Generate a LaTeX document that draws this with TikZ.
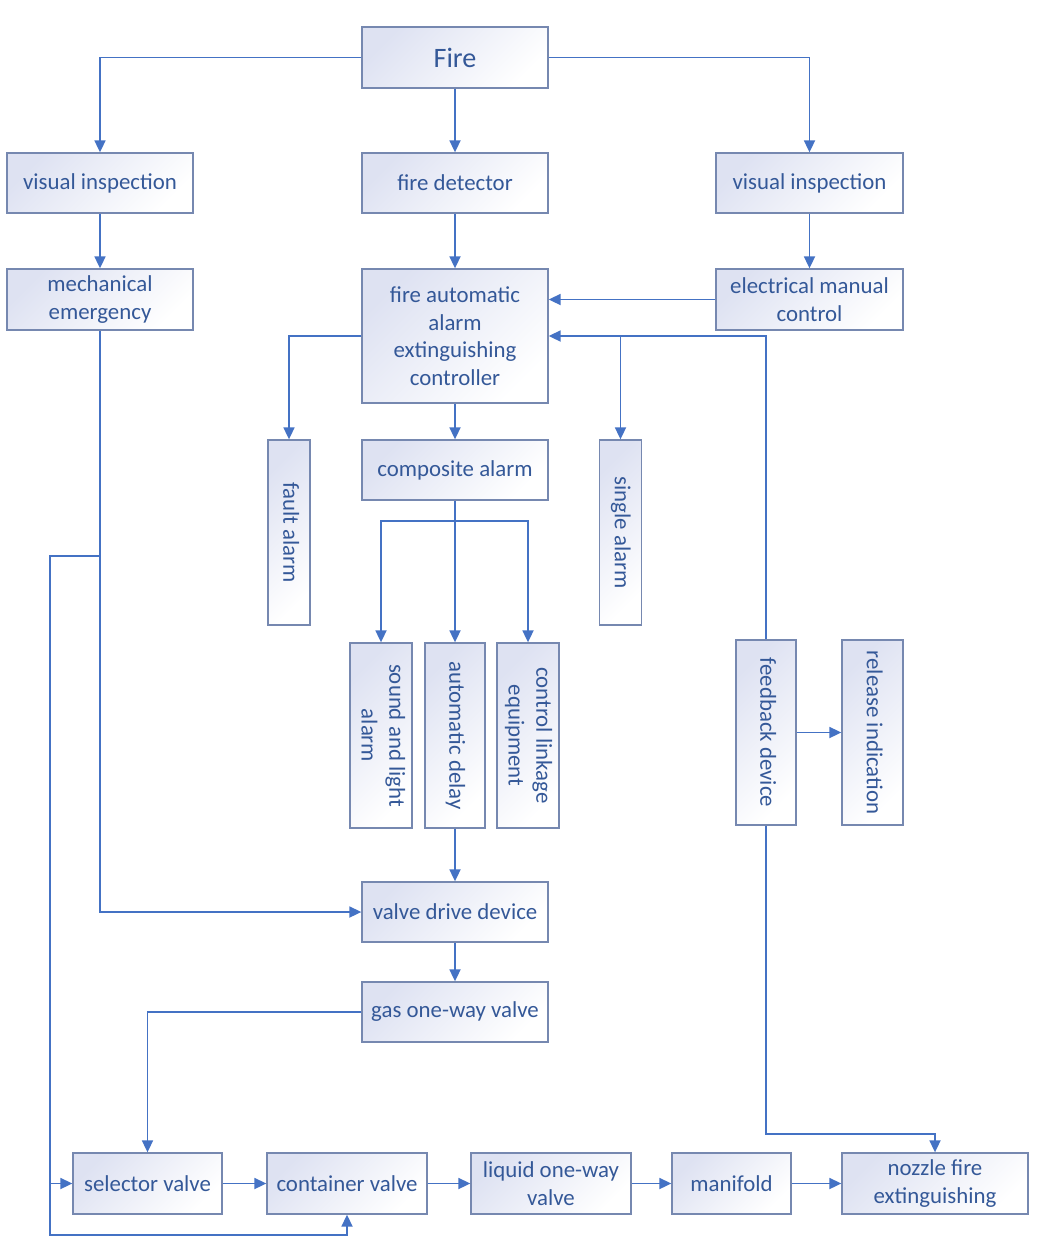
\documentclass[tikz,border=0pt]{standalone}
\usepackage{fontspec}
\setmainfont{Carlito}
\usepackage{graphicx}
\usepackage{xcolor}
\definecolor{lblue}{RGB}{68,114,196}
\definecolor{bbord}{RGB}{118,136,176}
\definecolor{btext}{RGB}{52,88,152}
\definecolor{bfill}{RGB}{222,226,242}
\usepackage{tikz}
\usetikzlibrary{arrows.meta,positioning,calc}

\newcommand{\vlabel}[1]{\rotatebox{-90}{\begin{tabular}{@{}c@{}}#1\end{tabular}}}

\begin{document}
\begin{tikzpicture}[
  wbox/.style={rectangle,draw=bbord,line width=0.75pt,top color=bfill,bottom color=white,shading angle=45,
    minimum width=3.72cm,minimum height=1.2cm,inner sep=2pt,align=center,text=btext,
    font=\fontsize{13}{15.7}\selectfont},
  tbox/.style={wbox,minimum width=1.2cm,minimum height=3.7cm},
  arrow/.style={-{Triangle[length=2.4mm,width=2.2mm]},line width=1pt,lblue}
]
  \useasboundingbox (0,0) rectangle (21.2,-24.96);

  \node[wbox,minimum height=1.22cm,font=\fontsize{16}{19}\selectfont] (fire) at (9.1,-1.15) {Fire};
  \node[wbox] (visl) at (2.0,-3.66) {visual inspection};
  \node[wbox] (det) at (9.1,-3.66) {fire detector};
  \node[wbox,minimum width=3.74cm] (visr) at (16.19,-3.66) {visual inspection};
  \node[wbox,minimum height=1.22cm] (mech) at (2.0,-5.99) {mechanical\\emergency};
  \node[wbox,minimum height=2.68cm] (ctrl) at (9.1,-6.72) {fire automatic\\alarm\\extinguishing\\controller};
  \node[wbox,minimum width=3.74cm,minimum height=1.22cm] (elec) at (16.19,-5.99) {electrical manual\\control};
  \node[tbox,minimum width=0.84cm] (fault) at (5.78,-10.65) {\vlabel{fault alarm}};
  \node[wbox] (comp) at (9.1,-9.4) {composite alarm};
  \node[tbox,minimum width=0.84cm] (single) at (12.41,-10.65) {\vlabel{single alarm}};
  \node[tbox] (sound) at (7.62,-14.71) {\vlabel{sound and light\\alarm}};
  \node[tbox] (delay) at (9.1,-14.71) {\vlabel{automatic delay}};
  \node[tbox] (linkage) at (10.56,-14.71) {\vlabel{control linkage\\equipment}};
  \node[tbox] (fb) at (15.32,-14.65) {\vlabel{feedback device}};
  \node[tbox,minimum width=1.22cm] (rel) at (17.45,-14.65) {\vlabel{release indication}};
  \node[wbox] (vdrive) at (9.1,-18.24) {valve drive device};
  \node[wbox] (gas) at (9.1,-20.24) {gas one-way valve};
  \node[wbox,minimum width=2.98cm,minimum height=1.22cm] (sel) at (2.95,-23.67) {selector valve};
  \node[wbox,minimum width=3.2cm,minimum height=1.22cm] (cont) at (6.94,-23.67) {container valve};
  \node[wbox,minimum width=3.2cm,minimum height=1.22cm] (liq) at (11.02,-23.67) {liquid one-way\\valve};
  \node[wbox,minimum width=2.38cm,minimum height=1.22cm] (mani) at (14.63,-23.67) {manifold};
  \node[wbox,minimum height=1.22cm] (noz) at (18.7,-23.67) {nozzle fire\\extinguishing};

  \draw[arrow] (fire.west) -| (visl.north);
  \draw[arrow] (fire) -- (det);
  \draw[arrow] (fire.east) -| (visr.north);
  \draw[arrow] (visl) -- (mech);
  \draw[arrow] (det) -- (ctrl);
  \draw[arrow] (visr) -- (elec);
  \draw[arrow] (elec.west) -- (elec.west -| ctrl.east);
  \draw[arrow] (fb.north) |- (ctrl.east);
  \draw[arrow] (single.north |- ctrl.east) -- (single.north);
  \draw[arrow] (ctrl.west) -| (fault.north);
  \draw[arrow] (ctrl) -- (comp);

  \coordinate (split) at (9.1,-10.42);
  \draw[arrow] (comp) -- (delay);
  \draw[arrow] (split) -| (sound.north);
  \draw[arrow] (split) -| (linkage.north);

  \draw[arrow] (fb.east) -- (rel.west);
  \draw[arrow] (fb.south) -- ++(0,-6.16) -| (noz.north);
  \draw[arrow] (delay) -- (vdrive);
  \draw[arrow] (mech.south) |- (vdrive.west);
  \draw[arrow] (vdrive) -- (gas);
  \draw[arrow] (gas.west) -| (sel.north);

  \coordinate (mbr) at (2.0,-11.12);
  \coordinate (mleft) at (1.0,-11.12);
  \draw[arrow] (mbr) -- (mleft) |- ($(cont.south)+(0,-0.4)$) -- (cont.south);
  \draw[arrow] (mleft |- sel.west) -- (sel.west);

  \draw[arrow] (sel) -- (cont);
  \draw[arrow] (cont) -- (liq);
  \draw[arrow] (liq) -- (mani);
  \draw[arrow] (mani) -- (noz);
\end{tikzpicture}
\end{document}
